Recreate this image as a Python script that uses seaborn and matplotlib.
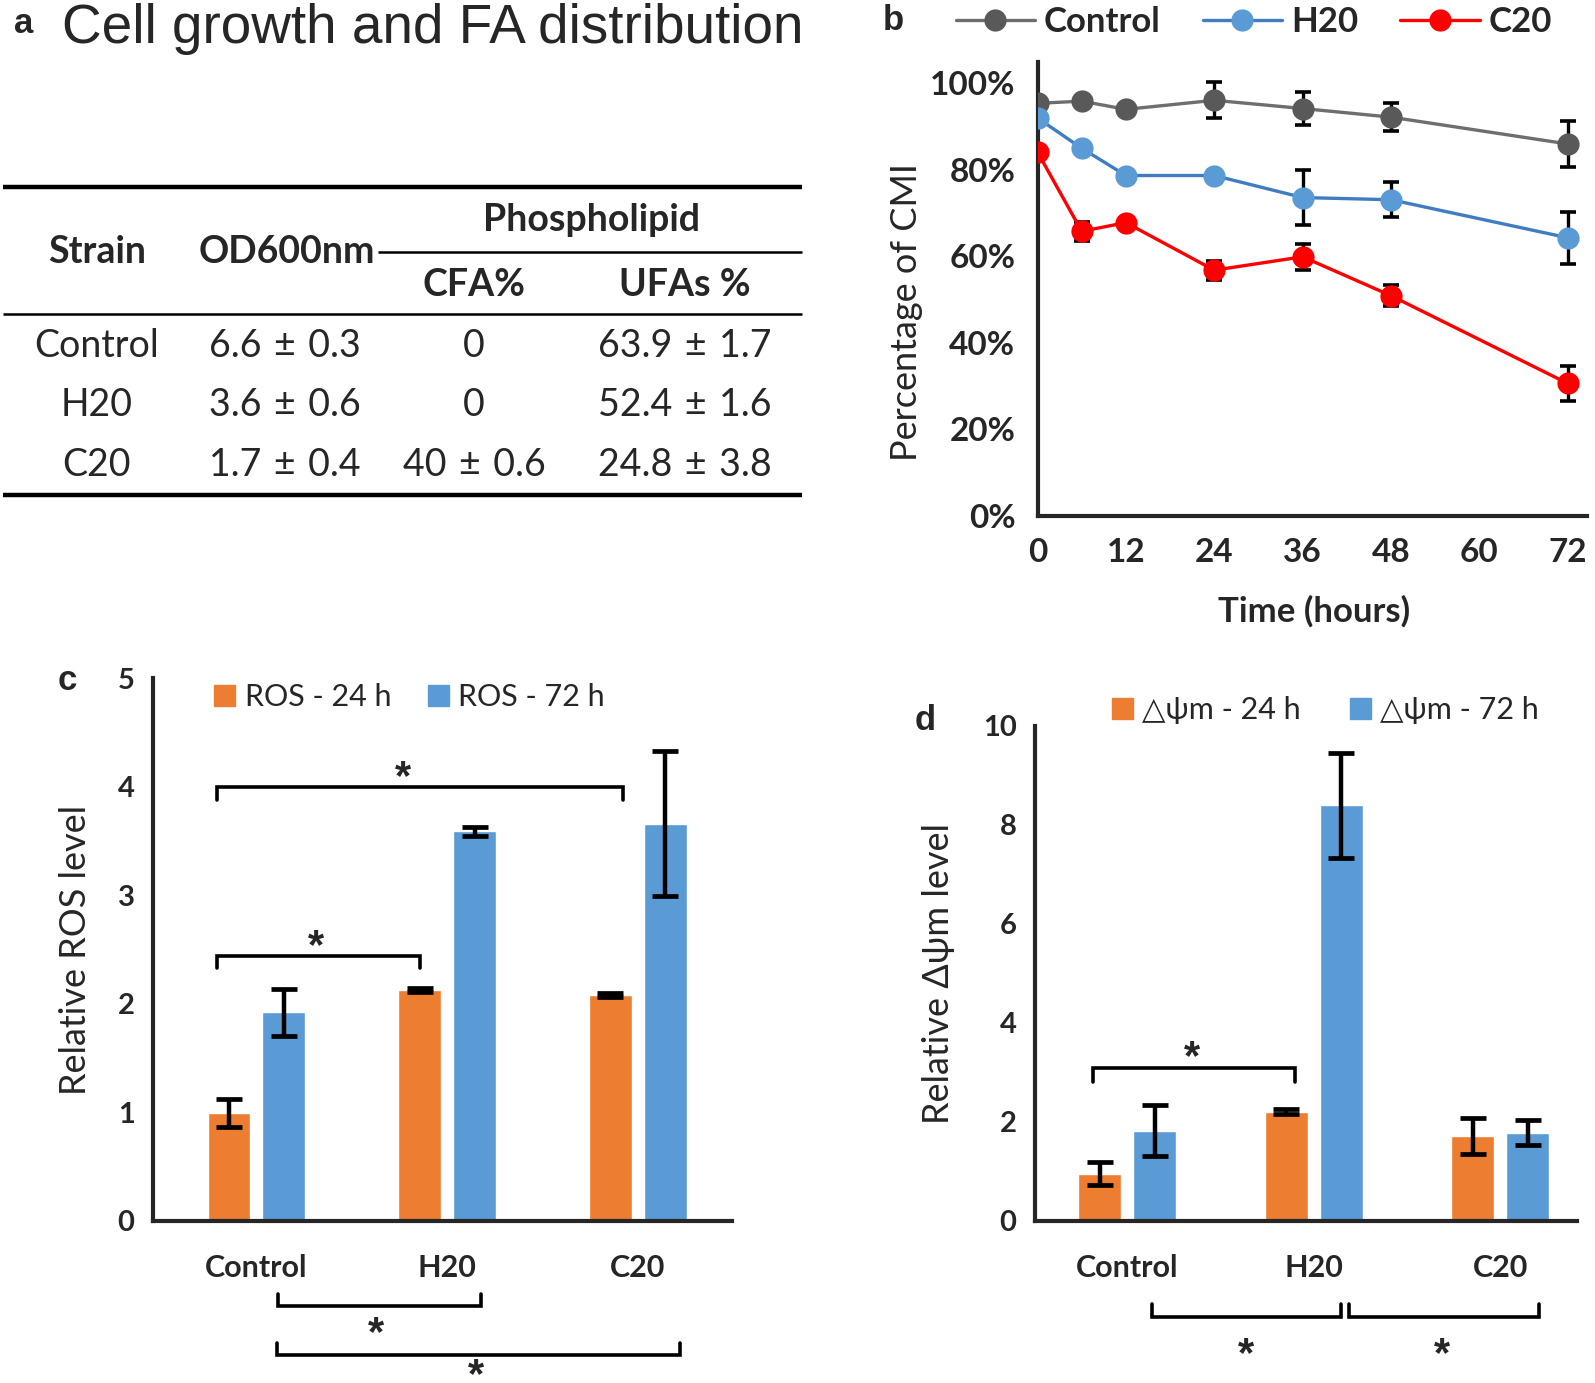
import numpy as np
import pandas as pd
import matplotlib
matplotlib.use("Agg")
import matplotlib.pyplot as plt
from matplotlib.lines import Line2D
from matplotlib.patches import Patch
from matplotlib.ticker import PercentFormatter
import seaborn as sns

# ---- panel a: growth / fatty-acid table ----
PM = "\u2004\u00b1\u2004"
strains = ["Control", "H20", "C20"]
od600 = ["6.6" + PM + "0.3", "3.6" + PM + "0.6", "1.7" + PM + "0.4"]
cfa = ["0", "0", "40" + PM + "0.6"]
ufas = ["63.9" + PM + "1.7", "52.4" + PM + "1.6", "24.8" + PM + "3.8"]

# ---- panel b: percentage of CMI over time ----
hours = [0, 6, 12, 24, 36, 48, 72]
cmi_control = [95.4, 95.9, 94.0, 96.1, 94.2, 92.2, 86.0]
cmi_control_err = [1.0, 1.0, 1.0, 4.2, 3.8, 3.3, 5.3]
cmi_h20 = [92.0, 85.0, 78.7, 78.7, 73.6, 73.1, 64.3]
cmi_h20_err = [1.0, 1.0, 1.0, 1.0, 6.4, 4.0, 6.0]
cmi_c20 = [84.1, 65.8, 67.8, 56.8, 59.9, 50.9, 30.6]
cmi_c20_err = [1.0, 2.2, 1.0, 2.2, 3.0, 2.5, 4.0]

# ---- panel c: relative ROS ----
groups = ["Control", "H20", "C20"]
ros_24 = [0.99, 2.13, 2.08]
ros_24_err = [0.13, 0.02, 0.02]
ros_72 = [1.92, 3.59, 3.66]
ros_72_err = [0.22, 0.04, 0.67]

# ---- panel d: relative delta-psi-m ----
dpsi_24 = [0.95, 2.20, 1.71]
dpsi_24_err = [0.23, 0.05, 0.37]
dpsi_72 = [1.82, 8.39, 1.78]
dpsi_72_err = [0.52, 1.06, 0.25]

ORANGE = "#ED7D31"
BLUE = "#5B9BD5"

sns.set_style("white")
plt.rcParams["font.family"] = ["Lato", "DejaVu Sans"]
plt.rcParams["axes.linewidth"] = 3

fig = plt.figure(figsize=(15.95, 13.83), dpi=100)

# ============ panel a ============
ax_a = fig.add_axes([0, 0.6385, 0.5078, 0.3615])
ax_a.set_xlim(0, 810)
ax_a.set_ylim(500, 0)
ax_a.axis("off")

ax_a.text(14, 24, "a", fontsize=25, fontweight="bold", family="Liberation Sans",
          ha="left", va="center")
ax_a.text(62, 29, "Cell growth and FA distribution", fontsize=39.5,
          family="Liberation Sans", ha="left", va="center")

ax_a.hlines([187, 495], 3, 802, color="black", lw=3.2)
ax_a.hlines(314, 3, 802, color="black", lw=1.8)
ax_a.hlines(252, 378, 802, color="black", lw=1.8)

hdr = dict(fontsize=27, fontweight="bold", ha="center", va="center")
ax_a.text(592, 220, "Phospholipid", **hdr)
ax_a.text(97, 252, "Strain", **hdr)
ax_a.text(287, 252, "OD600nm", **hdr)
ax_a.text(474, 285, "CFA%", **hdr)
ax_a.text(685, 285, "UFAs %", **hdr)

row_y = [346, 405, 465]
body = dict(fontsize=27, ha="center", va="center")
for y, s, o, c, u in zip(row_y, strains, od600, cfa, ufas):
    ax_a.text(97, y, s, **body)
    ax_a.text(285, y, o, **body)
    ax_a.text(474, y, c, **body)
    ax_a.text(685, y, u, **body)

# ============ panel b ============
ax_b = fig.add_axes([0.6505, 0.6271, 0.3444, 0.3282])
df_b = pd.DataFrame({
    "hours": hours * 3,
    "cmi": cmi_control + cmi_h20 + cmi_c20,
    "err": cmi_control_err + cmi_h20_err + cmi_c20_err,
    "strain": ["Control"] * 7 + ["H20"] * 7 + ["C20"] * 7,
})
line_cols = {"Control": "#6e6e6e", "H20": "#3f7cc2", "C20": "#ff0000"}
mark_cols = {"Control": "#595959", "H20": "#5B9BD5", "C20": "#ff0000"}
sns.lineplot(data=df_b, x="hours", y="cmi", hue="strain", palette=line_cols,
             marker="o", markersize=16, markeredgewidth=0, linewidth=2.4,
             legend=False, ax=ax_b, zorder=3)
for ln, name in zip(ax_b.get_lines(), ["Control", "H20", "C20"]):
    ln.set_markerfacecolor(mark_cols[name])
    ln.set_markeredgecolor(mark_cols[name])
for name, sub in df_b.groupby("strain"):
    ax_b.errorbar(sub["hours"], sub["cmi"], yerr=sub["err"], fmt="none",
                  ecolor="black", elinewidth=2.4, capsize=6, capthick=2.6, zorder=2)

ax_b.set_xlim(0, 74.6)
ax_b.set_ylim(0, 105)
ax_b.set_xticks([0, 12, 24, 36, 48, 60, 72])
ax_b.set_yticks([0, 20, 40, 60, 80, 100])
ax_b.yaxis.set_major_formatter(PercentFormatter(decimals=0))
ax_b.tick_params(direction="inout", length=14, width=3, labelsize=24, pad=9)
for lab in ax_b.get_xticklabels() + ax_b.get_yticklabels():
    lab.set_fontweight("bold")
for s in ["top", "right"]:
    ax_b.spines[s].set_visible(False)
ax_b.set_xlabel("Time (hours)", fontsize=25, fontweight="bold")
ax_b.set_ylabel("Percentage of CMI", fontsize=26)
ax_b.xaxis.set_label_coords(0.503, -0.175)
ax_b.yaxis.set_label_coords(-0.208, 0.449)

handles_b = [Line2D([], [], color=line_cols[n], lw=2.4, marker="o", markersize=16,
                    markerfacecolor=mark_cols[n], markeredgewidth=0, label=n)
             for n in ["Control", "H20", "C20"]]
fig.legend(handles=handles_b, loc="center", bbox_to_anchor=(0.786, 0.9838), ncol=3,
           frameon=False, handlelength=2.3, handletextpad=0.25, columnspacing=1.2,
           prop={"size": 25, "weight": "bold"})


# ============ bar panels ============
def bar_panel(ax, v24, e24, v72, e72, labels, width):
    df = pd.DataFrame({"group": groups * 2, "time": [labels[0]] * 3 + [labels[1]] * 3,
                       "value": v24 + v72})
    sns.barplot(data=df, x="group", y="value", hue="time", palette=[ORANGE, BLUE],
                width=width, gap=0.22, errorbar=None, saturation=1, legend=False, ax=ax)
    for cont, errs in zip(ax.containers, [e24, e72]):
        xs = [b.get_x() + b.get_width() / 2 for b in cont]
        ys = [b.get_height() for b in cont]
        ax.errorbar(xs, ys, yerr=errs, fmt="none", ecolor="black", elinewidth=3.2,
                    capsize=9.5, capthick=3.4, zorder=4)
    for s in ["top", "right"]:
        ax.spines[s].set_visible(False)
    ax.set_xlabel("")
    ax.tick_params(axis="y", direction="out", length=6, width=3, labelsize=21, pad=7)
    ax.tick_params(axis="x", length=0, labelsize=22, pad=24)
    for lab in ax.get_xticklabels() + ax.get_yticklabels():
        lab.set_fontweight("bold")
    handles = [Patch(color=ORANGE, label=labels[0]), Patch(color=BLUE, label=labels[1])]
    return handles


def bracket(ax, x1, x2, y, leg_y, star_x, star_y):
    ax.plot([x1, x1, x2, x2], [leg_y, y, y, leg_y], color="black", lw=2.6,
            solid_joinstyle="miter", clip_on=False, zorder=5)
    ax.text(star_x, star_y, "*", fontsize=30, fontweight="bold", family="Liberation Sans",
            ha="center", va="center", clip_on=False)


# ---- c ----
ax_c = fig.add_axes([0.0957, 0.1174, 0.3635, 0.392])
h_c = bar_panel(ax_c, ros_24, ros_24_err, ros_72, ros_72_err,
                ["ROS - 24 h", "ROS - 72 h"], 0.576)
ax_c.set_xlim(-0.544, 2.496)
ax_c.set_ylim(0, 5)
ax_c.set_yticks([0, 1, 2, 3, 4, 5])
ax_c.set_ylabel("Relative ROS level", fontsize=26)
ax_c.yaxis.set_label_coords(-0.104, 0.5)
ax_c.legend(handles=h_c, loc="center", bbox_to_anchor=(0.443, 0.966), ncol=2,
            frameon=False, handlelength=0.7, handleheight=0.7, handletextpad=0.3,
            columnspacing=1.2, fontsize=22)
bracket(ax_c, -0.208, 1.92, 4.0, 3.88, 0.77, 4.08)
bracket(ax_c, -0.208, 0.859, 2.44, 2.33, 0.315, 2.52)
bracket(ax_c, 0.112, 1.179, -0.788, -0.675, 0.629, -1.05)
bracket(ax_c, 0.107, 2.219, -1.238, -1.126, 1.152, -1.43)

# ---- d ----
ax_d = fig.add_axes([0.6486, 0.1174, 0.340, 0.358])
h_d = bar_panel(ax_d, dpsi_24, dpsi_24_err, dpsi_72, dpsi_72_err,
                ["\u25b3\u03c8m - 24 h", "\u25b3\u03c8m - 72 h"], 0.588)
ax_d.set_xlim(-0.496, 2.41)
ax_d.set_ylim(0, 10)
ax_d.set_yticks([0, 2, 4, 6, 8, 10])
ax_d.set_ylabel("Relative \u0394\u03c8m level", fontsize=26)
ax_d.yaxis.set_label_coords(-0.146, 0.5)
ax_d.legend(handles=h_d, loc="center", bbox_to_anchor=(0.536, 1.031), ncol=2,
            frameon=False, handlelength=0.7, handleheight=0.7, handletextpad=0.3,
            columnspacing=1.6, fontsize=22)
bracket(ax_d, -0.18, 0.899, 3.08, 2.81, 0.349, 3.28)
bracket(ax_d, 0.136, 1.144, -1.95, -1.68, 0.638, -2.72)
bracket(ax_d, 1.188, 2.207, -1.95, -1.68, 1.689, -2.72)

# panel letters
fig.text(893 / 1595, 1 - 20 / 1383, "b", fontsize=25, fontweight="bold",
         family="Liberation Sans", ha="center", va="center")
fig.text(67 / 1595, 1 - 680 / 1383, "c", fontsize=25, fontweight="bold",
         family="Liberation Sans", ha="center", va="center")
fig.text(925 / 1595, 1 - 720 / 1383, "d", fontsize=25, fontweight="bold",
         family="Liberation Sans", ha="center", va="center")

fig.savefig("out.png", dpi=100)
